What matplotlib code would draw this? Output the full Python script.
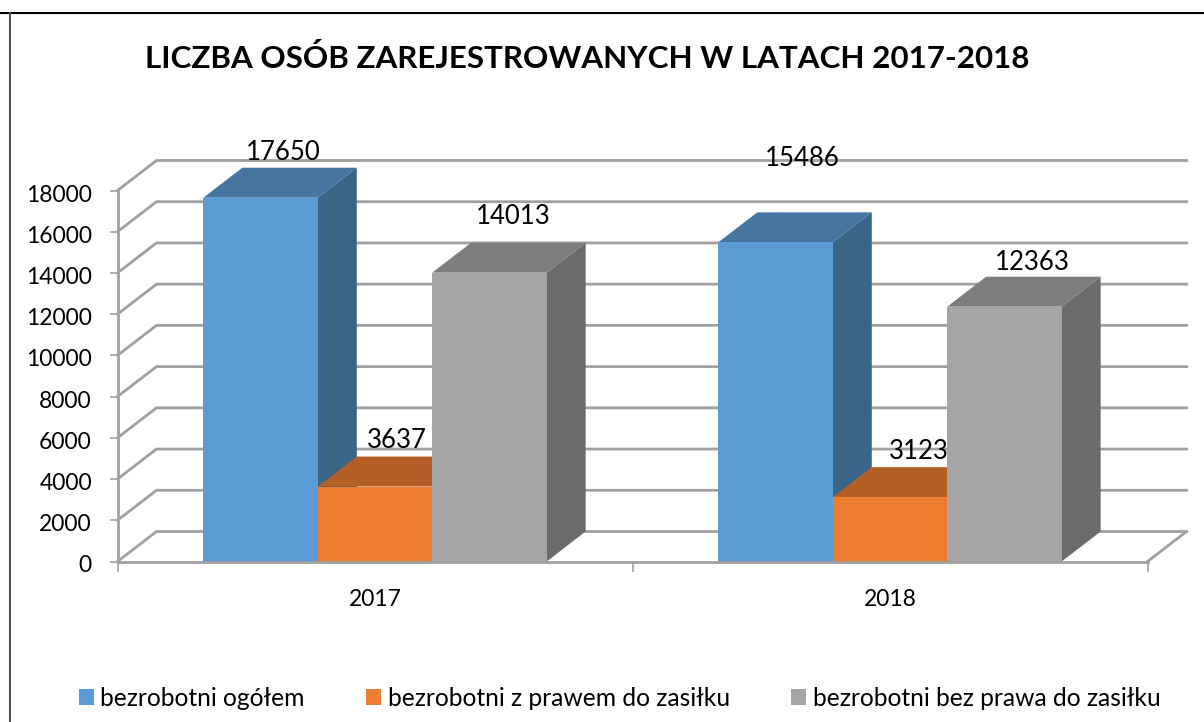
"""
Liczba osob zarejestrowanych w latach 2017-2018 - pseudo 3D bar chart
"""
import matplotlib
matplotlib.use("Agg")
import matplotlib.pyplot as plt
from matplotlib.patches import Patch, Polygon
from matplotlib.transforms import Affine2D

# chart data
years = ['2017', '2018']
series_names = ['bezrobotni ogółem', 'bezrobotni z prawem do zasiłku', 'bezrobotni bez prawa do zasiłku']
ogolem = [17650, 15486]
z_prawem = [3637, 3123]
bez_prawa = [14013, 12363]
y_ticks = [0, 2000, 4000, 6000, 8000, 10000, 12000, 14000, 16000, 18000]

# front, top and side colours for each series
colors = ['#5B9BD5', '#ED7D31', '#A5A5A5']
top_colors = ['#4675A2', '#B45F26', '#7D7D7D']
side_colors = ['#3A6587', '#9B5220', '#6B6B6B']
grid_color = '#A0A0A0'

WIDTH, HEIGHT = 1204, 722
LEFT, RIGHT, TOP, BOTTOM = 117.5, 1147.5, 190.5, 561.5
BAR_WIDTH = 0.2222
# label offsets from the front top centre of a bar, in pixels
label_offsets = {
    0: [(23, 45), (27, 84)],
    1: [(22, 46), (29, 46)],
    2: [(24, 56), (28, 44)],
}

plt.rcParams['font.family'] = ['Lato', 'DejaVu Sans']

fig = plt.figure(figsize=(WIDTH / 100, HEIGHT / 100), dpi=100)
ax = fig.add_axes([LEFT / WIDTH, 1 - BOTTOM / HEIGHT, (RIGHT - LEFT) / WIDTH, (BOTTOM - TOP) / HEIGHT])
ax.set_xlim(-0.5, 1.5)
ax.set_ylim(0, 18000)
ax.patch.set_visible(False)

# depth of the fake 3D box, 39 px right and 30 px up
depth_x = 39 * 2 / (RIGHT - LEFT)
depth_y = 30 * 18000 / (BOTTOM - TOP)

# back wall and left side wall gridlines
for tick in y_ticks:
    ax.plot([-0.5, -0.5 + depth_x, 1.5 + depth_x], [tick, tick + depth_y, tick + depth_y],
            color=grid_color, lw=2, clip_on=False, zorder=1, solid_joinstyle='miter')
# floor right edge
ax.plot([1.5, 1.5 + depth_x], [0, depth_y], color=grid_color, lw=2, clip_on=False, zorder=1)


def draw_bar(left, value, front, top, side):
    right = left + BAR_WIDTH
    ax.add_patch(Polygon([(right, 0), (right + depth_x, depth_y), (right + depth_x, value + depth_y), (right, value)],
                         facecolor=side, edgecolor='none', clip_on=False, zorder=3))
    ax.add_patch(Polygon([(left, value), (left + depth_x, value + depth_y), (right + depth_x, value + depth_y), (right, value)],
                         facecolor=top, edgecolor='none', clip_on=False, zorder=3))
    ax.bar(left, value, BAR_WIDTH, align='edge', color=front, clip_on=False, zorder=4)


all_series = [ogolem, z_prawem, bez_prawa]
for group in range(len(years)):
    for i, values in enumerate(all_series):
        left = group + (i - 1.5) * BAR_WIDTH
        draw_bar(left, values[group], colors[i], top_colors[i], side_colors[i])

# labels go on top of every bar
for group in range(len(years)):
    for i, values in enumerate(all_series):
        center = group + (i - 1) * BAR_WIDTH
        ax.annotate(str(values[group]), (center, values[group]), xytext=label_offsets[i][group],
                    textcoords='offset pixels', ha='center', va='center', fontsize=18.5,
                    color='black', zorder=6, annotation_clip=False)

for side in ['top', 'right']:
    ax.spines[side].set_visible(False)
for side in ['left', 'bottom']:
    ax.spines[side].set_color(grid_color)
    ax.spines[side].set_linewidth(2)
    ax.spines[side].set_zorder(5)

ax.set_yticks(y_ticks)
ax.set_yticklabels([str(t) for t in y_ticks], fontsize=16.5)
ax.tick_params(axis='y', length=5.8, width=1.2, color=grid_color, pad=12.6)
# tick labels sit a little below their ticks
for label in ax.get_yticklabels():
    label.set_transform(label.get_transform() + Affine2D().translate(0, -2.5))

# x ticks sit on the category borders, labels in the middle
ax.set_xticks([-0.5, 0.5, 1.5])
ax.set_xticklabels([])
ax.tick_params(axis='x', length=7, width=1.2, color=grid_color)
ax.set_xticks([0, 1], labels=years, minor=True)
ax.tick_params(axis='x', which='minor', length=0, labelsize=16.5, pad=20)

fig.text(587 / WIDTH, 1 - 58 / HEIGHT, 'LICZBA OSÓB ZAREJESTROWANYCH W LATACH 2017-2018',
         ha='center', va='center', fontsize=22.6, fontweight='bold', color='black')

handles = [Patch(facecolor=c, edgecolor='none') for c in colors]
fig.legend(handles, series_names, loc='center', bbox_to_anchor=(619.5 / WIDTH, 1 - 698 / HEIGHT),
           ncols=3, frameon=False, fontsize=17.7, handlelength=0.61, handleheight=0.61,
           handletextpad=0.28, columnspacing=2.48, borderpad=0, borderaxespad=0)

# chart frame, only the top and left edges are inside the crop
fig.add_artist(plt.Line2D([0, 1], [1 - 12.5 / HEIGHT] * 2, color='black', lw=1.5))
fig.add_artist(plt.Line2D([9.5 / WIDTH] * 2, [0, 1 - 12.5 / HEIGHT], color='#505050', lw=1.5))

fig.savefig('out.png', dpi=100)
